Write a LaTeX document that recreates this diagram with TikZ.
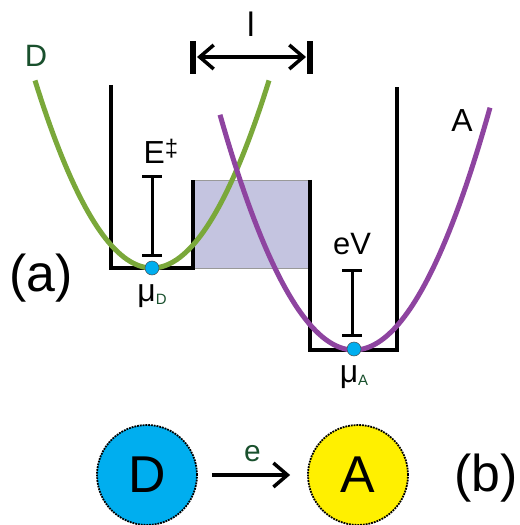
\documentclass[tikz,border=0pt]{standalone}
\usepackage{fontspec}
\setmainfont{Liberation Sans}
\usetikzlibrary{arrows.meta,positioning}
\definecolor{curvegreen}{RGB}{122,168,58}
\definecolor{curvepurple}{RGB}{142,68,160}
\definecolor{barrierfill}{RGB}{196,196,224}
\definecolor{dotblue}{RGB}{0,174,239}
\definecolor{ballyellow}{RGB}{255,240,0}
\definecolor{labgreen}{RGB}{25,80,45}
\newcommand{\fs}[1]{\fontsize{#1}{#1}\selectfont}

\begin{document}
\begin{tikzpicture}[
    x=1bp, y=-1bp,
    >={Straight Barb[length=14bp,width=24bp,line width=3.5bp]},
    wall/.style={line width=4.5bp, line join=miter},
    curve/.style={line width=5bp},
    ibar/.style={line width=3bp, {Bar[width=20bp]}-{Bar[width=20bp]}},
    dot/.style={circle, fill=dotblue, draw=black!70, line width=0.5bp, inner sep=0pt, minimum size=14bp},
    ball/.style={circle, draw, densely dotted, line width=1.8bp, minimum size=100bp, font=\fs{52}},
    lab/.style={font=\fs{31}}
]
    \useasboundingbox (0,0) rectangle (520,525);

    % (a) wells and barrier
    \fill[barrierfill, draw=black!40, line width=0.6bp] (193,180) rectangle (310,268);
    \draw[wall] (111,85) -- (111,268) -- (193,268) -- (193,180);
    \draw[wall] (310,180) -- (310,350) -- (397,350) -- (397,87);

    % distance l
    \coordinate (lleft) at (193,57);
    \coordinate (lright) at (310,57);
    \draw[line width=6bp] ([yshift=-17bp]lleft) -- ([yshift=16bp]lleft);
    \draw[line width=6bp] ([yshift=-17bp]lright) -- ([yshift=16bp]lright);
    \draw[line width=3.5bp, <->] ([xshift=4bp]lleft) -- ([xshift=-4bp]lright);
    \node[font=\fs{34}] (llab) at (251,24) {l};

    % energy curves
    \draw[curve, curvegreen] plot[domain=-117:117, samples=80] ({152+\x}, {268-1.37*(\x/10)^2});
    \draw[curve, curvepurple] plot[domain=-134:136, samples=80] ({354+\x}, {350-1.31*(\x/10)^2});

    % barrier heights
    \coordinate (etop) at (152,175);
    \coordinate (ebot) at (152,257);
    \draw[ibar] (etop) -- (ebot);
    \node[font=\fs{32}] (elab) at (161,151) {E\raisebox{7bp}{\fs{24}‡}};
    \coordinate (vtop) at (352,269);
    \coordinate (vbot) at (352,337);
    \draw[ibar] (vtop) -- (vbot);
    \node[lab] (vlab) at (352,244) {eV};

    % minima
    \node[dot] (muD) at (152,268) {};
    \node[dot] (muA) at (354,349) {};
    \node[font=\fs{32}, below=6bp of muD] (muDlab) {μ\raisebox{-3bp}{\fs{15}\color{labgreen}D}};
    \node[font=\fs{32}, below=6bp of muA] (muAlab) {μ\raisebox{-3bp}{\fs{15}\color{labgreen}A}};

    % curve labels
    \node[lab, text=labgreen] (dlab) at (36,56) {D};
    \node[lab, font=\fs{32}] (alab) at (462,121) {A};
    \node[font=\fs{52}] (alabel) at (41,278) {(a)};

    % (b) transfer
    \node[ball, fill=dotblue] (D) at (147,475) {D};
    \node[ball, fill=ballyellow] (A) at (358,475) {A};
    \draw[line width=3.5bp, ->, shorten <=14bp, shorten >=17bp]
        (D) -- (A) node[midway, above=8bp, font=\fs{30}, text=labgreen] (elec) {e};
    \node[font=\fs{52}] (blabel) at (486,478) {(b)};
\end{tikzpicture}
\end{document}
